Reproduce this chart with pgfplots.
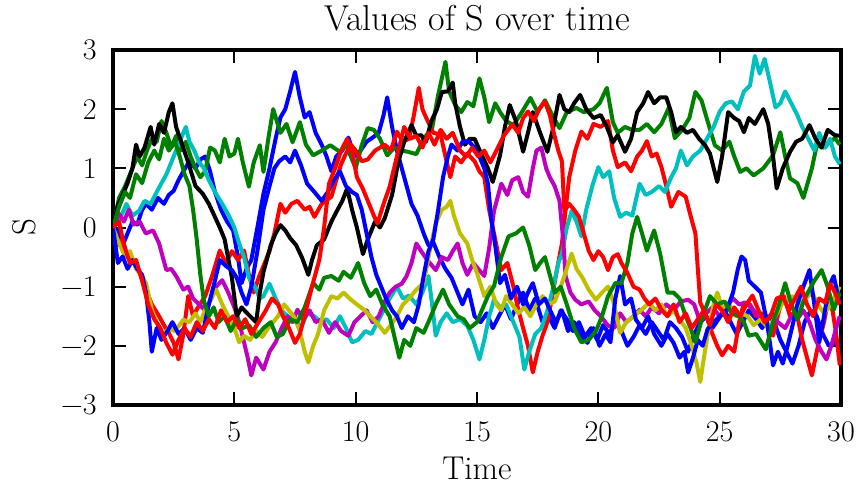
\documentclass[border=0pt]{standalone}
\usepackage{pgfplots}
\pgfplotsset{compat=1.18}
\definecolor{mplb}{rgb}{0,0,1}
\definecolor{mplg}{rgb}{0,0.5,0}
\definecolor{mplr}{rgb}{1,0,0}
\definecolor{mplc}{rgb}{0,0.75,0.75}
\definecolor{mplm}{rgb}{0.75,0,0.75}
\definecolor{mply}{rgb}{0.75,0.75,0}
\newcommand{\tickfont}{\fontsize{15}{18}\selectfont}
\newcommand{\labelfont}{\fontsize{16.5}{19}\selectfont}
\begin{document}
\begin{tikzpicture}
\path[use as bounding box] (-56.5pt,-43pt) rectangle (374pt,202.5pt);
\begin{axis}[
  at={(0pt,0pt)}, anchor=south west,
  scale only axis, width=364pt, height=177.5pt,
  xmin=0, xmax=30, ymin=-3, ymax=3,
  xtick={0,5,10,15,20,25,30}, ytick={-3,-2,-1,0,1,2,3},
  xticklabels={0,5,10,15,20,25,30},
  yticklabels={−3,−2,−1,0,1,2,3},
  /pgf/number format/assume math mode=true,
  tick align=inside, tick pos=both,
  major tick length=6.5pt,
  every tick/.style={black, line width=1pt},
  axis line style={line width=2pt},
  every tick label/.append style={font=\tickfont},
  xticklabel style={anchor=base, yshift=-18.5pt, inner sep=0pt},
  yticklabel style={anchor=east, xshift=-8pt, inner sep=0pt},
  title={Values of S over time},
  title style={at={(axis description cs:0.5,1.0563)}, anchor=base, yshift=-6pt, inner sep=0pt, font=\fontsize{18}{21}\selectfont},
  xlabel={Time},
  xlabel style={at={(axis description cs:0.5,-0.2085)}, anchor=base, inner sep=0pt, font=\labelfont},
  ylabel={S},
  ylabel style={at={(axis description cs:-0.1071,0.5)}, anchor=base, inner sep=0pt, font=\labelfont},
  every axis plot/.append style={line width=2pt, line join=round},
]
% blue A
\addplot[mplb] coordinates {(0,0) (0.2,-0.05) (0.4,-0.3) (0.6,-0.1) (0.8,0.1) (1.0,0.05) (1.2,0.3) (1.36,0.4) (1.6,0.3) (1.85,0.5) (2.1,0.4) (2.3,0.55) (2.5,0.62) (2.7,0.8) (2.9,0.95) (3.15,1.12) (3.4,1.0) (3.6,1.15) (3.8,1.2) (4.0,0.95) (4.2,0.6) (4.45,0.3) (4.7,0.1) (4.95,-0.05) (5.15,-0.5) (5.3,-0.94) (5.5,-0.7) (5.7,-0.55) (5.95,0.0) (6.2,0.57) (6.45,1.0) (6.7,1.5) (6.9,1.86) (7.1,2.0) (7.3,2.3) (7.5,2.63) (7.7,2.2) (7.9,1.86) (8.1,1.95) (8.35,1.6) (8.6,1.4) (8.8,1.2) (9.0,0.95) (9.2,1.2) (9.45,1.3) (9.7,1.52) (9.95,1.2) (10.2,1.3) (10.45,1.45) (10.7,1.52) (10.95,1.6) (11.15,1.9) (11.3,2.2) (11.5,1.7) (11.7,1.3) (11.9,1.0) (12.1,0.7) (12.3,0.4) (12.55,0.2) (12.8,-0.1) (13.0,-0.3) (13.2,-0.25) (13.45,-0.5) (13.7,-0.7) (13.95,-0.85) (14.2,-1.1) (14.4,-1.3) (14.65,-1.05) (14.9,-1.5) (15.15,-1.6) (15.4,-1.45) (15.65,-1.7) (15.9,-1.5) (16.15,-1.3) (16.4,-1.55) (16.65,-1.3) (16.9,-1.1) (17.15,-1.4) (17.4,-1.2) (17.7,-1.6) (17.95,-1.5) (18.2,-1.7) (18.45,-1.4) (18.7,-1.55) (18.95,-1.75) (19.2,-1.6) (19.45,-1.85) (19.7,-1.7) (19.95,-1.9) (20.2,-1.65) (20.45,-1.8) (20.7,-1.6) (20.95,-1.75) (21.2,-2.0) (21.45,-1.85) (21.7,-1.65) (21.95,-1.8) (22.2,-1.6) (22.45,-1.75) (22.7,-1.9) (22.95,-1.6) (23.2,-1.7) (23.45,-1.85) (23.7,-2.1) (23.95,-1.8) (24.2,-1.6) (24.45,-1.5) (24.7,-1.7) (24.95,-1.55) (25.2,-1.4) (25.45,-1.6) (25.7,-1.8) (25.95,-1.6) (26.2,-1.4) (26.5,-1.55) (26.75,-1.7) (27.0,-1.5) (27.25,-1.6) (27.5,-1.9) (27.75,-2.1) (28.0,-2.3) (28.25,-2.0) (28.5,-1.6) (28.75,-1.4) (29.0,-1.5) (29.25,-1.8) (29.5,-2.0) (29.75,-1.95) (29.95,-2.0)};
% green A
\addplot[mplg] coordinates {(0,0) (0.25,0.5) (0.5,0.7) (0.75,0.95) (1.0,1.2) (1.2,1.05) (1.4,1.3) (1.6,1.5) (1.8,1.45) (2.0,1.8) (2.2,1.6) (2.4,1.35) (2.6,1.55) (2.8,1.3) (3.0,1.45) (3.2,1.2) (3.4,1.0) (3.6,0.85) (3.8,0.95) (4.0,1.35) (4.2,1.3) (4.4,1.1) (4.6,1.5) (4.8,1.2) (5.0,1.25) (5.15,1.5) (5.35,1.1) (5.6,0.69) (5.8,1.1) (6.05,1.39) (6.2,0.94) (6.4,1.5) (6.6,2.0) (6.9,1.6) (7.15,1.75) (7.4,1.44) (7.7,1.78) (7.95,1.4) (8.25,1.22) (8.6,1.3) (8.95,1.39) (9.35,1.28) (9.6,1.4) (9.8,1.2) (10.0,1.0) (10.25,1.39) (10.5,1.68) (10.75,1.65) (11.0,1.5) (11.3,1.22) (11.6,1.35) (11.9,1.3) (12.15,1.28) (12.5,1.24) (12.8,1.5) (13.15,1.68) (13.4,2.24) (13.7,2.8) (13.85,2.3) (14.1,2.07) (14.35,1.95) (14.6,2.12) (14.85,2.05) (15.1,2.52) (15.3,2.2) (15.5,1.78) (15.75,2.1) (15.95,1.95) (16.2,1.8) (16.5,1.73) (16.85,1.95) (17.2,2.19) (17.5,1.95) (17.8,2.15) (18.1,1.9) (18.4,1.68) (18.7,1.95) (19.1,2.02) (19.4,1.95) (19.8,2.0) (20.05,2.1) (20.35,2.36) (20.6,1.78) (20.8,1.6) (21.1,1.7) (21.4,1.65) (21.7,1.65) (22.0,1.75) (22.3,1.61) (22.6,1.75) (22.9,2.02) (23.15,1.51) (23.45,1.65) (23.75,1.85) (24.0,2.29) (24.25,2.15) (24.5,1.8) (24.8,1.39) (25.1,1.3) (25.4,1.45) (25.6,1.2) (25.85,0.94) (26.1,1.0) (26.4,0.88) (26.8,1.0) (27.2,1.22) (27.5,1.61) (27.7,1.2) (27.9,0.83) (28.2,0.75) (28.45,0.5) (28.8,1.0) (29.0,1.39) (29.3,1.35) (29.55,1.45) (29.75,1.51) (29.95,1.4)};
% red A
\addplot[mplr] coordinates {(0,0) (0.2,-0.3) (0.4,-0.2) (0.6,-0.5) (0.85,-0.6) (1.07,-0.72) (1.25,-0.95) (1.36,-1.05) (1.6,-1.3) (1.9,-1.5) (2.1,-1.65) (2.3,-1.78) (2.5,-1.95) (2.7,-2.23) (2.9,-1.8) (3.1,-1.16) (3.3,-1.5) (3.5,-1.35) (3.8,-1.16) (4.1,-0.8) (4.4,-0.39) (4.65,-0.6) (4.9,-0.4) (5.15,-0.55) (5.4,-0.39) (5.6,-0.8) (5.8,-1.1) (6.0,-0.85) (6.2,-0.65) (6.45,-0.4) (6.65,-0.1) (6.9,0.4) (7.1,0.25) (7.35,0.4) (7.6,0.45) (7.9,0.3) (8.1,0.35) (8.3,0.18) (8.6,0.4) (9.0,0.52) (9.2,0.8) (9.4,1.07) (9.6,1.25) (9.8,1.4) (10.0,1.3) (10.25,1.12) (10.5,1.15) (10.8,1.3) (11.2,1.4) (11.45,1.3) (11.7,1.62) (11.95,1.45) (12.2,1.5) (12.4,1.9) (12.6,2.36) (12.75,2.0) (12.9,1.86) (13.2,1.6) (13.5,1.57) (13.7,1.2) (13.9,0.85) (14.1,1.2) (14.35,1.1) (14.6,1.25) (14.9,1.12) (15.1,0.95) (15.3,0.85) (15.5,0.3) (15.75,-0.2) (16.0,-0.72) (16.25,-0.6) (16.5,-1.0) (16.7,-1.39) (16.9,-1.7) (17.1,-2.0) (17.3,-2.45) (17.5,-2.1) (17.7,-1.83) (17.9,-1.6) (18.1,-1.16) (18.3,-0.7) (18.5,-0.27) (18.65,0.3) (18.8,0.85) (19.05,1.3) (19.3,1.62) (19.55,1.5) (19.8,1.75) (20.1,1.7) (20.4,1.8) (20.6,1.3) (20.8,1.02) (21.1,1.1) (21.35,0.95) (21.6,1.2) (21.8,1.3) (22.0,1.46) (22.2,1.2) (22.4,1.25) (22.6,1.02) (22.8,0.7) (23.0,0.35) (23.3,0.6) (23.6,0.52) (23.8,0.2) (24.0,-0.1) (24.1,-0.7) (24.2,-1.27) (24.45,-1.5) (24.7,-1.8) (24.9,-2.0) (25.1,-2.16) (25.35,-2.0) (25.6,-2.1) (25.8,-1.6) (26.0,-1.27) (26.25,-1.3) (26.5,-1.5) (26.8,-1.45) (27.0,-1.7) (27.2,-1.83) (27.45,-1.4) (27.65,-1.16) (27.9,-1.5) (28.15,-1.4) (28.4,-1.9) (28.6,-2.2) (28.8,-2.5) (29.05,-2.0) (29.3,-1.6) (29.45,-1.27) (29.65,-1.4) (29.8,-1.8) (29.95,-2.33)};
% cyan
\addplot[mplc] coordinates {(0,0) (0.2,0.1) (0.4,0.25) (0.55,0.4) (0.8,0.2) (1.07,0.28) (1.3,0.45) (1.55,0.4) (1.8,0.6) (2.0,0.75) (2.2,0.9) (2.4,1.1) (2.6,1.3) (2.8,1.5) (3.0,1.7) (3.15,1.45) (3.35,1.3) (3.55,1.1) (3.75,1.0) (3.95,0.8) (4.2,0.6) (4.5,0.4) (4.8,0.18) (5.0,0.0) (5.2,-0.27) (5.4,-0.5) (5.6,-0.85) (5.85,-1.0) (6.05,-1.2) (6.2,-1.16) (6.45,-0.95) (6.7,-1.2) (6.95,-1.4) (7.2,-1.5) (7.5,-1.56) (7.75,-1.7) (8.0,-1.45) (8.3,-1.5) (8.55,-1.6) (8.8,-1.55) (9.1,-1.7) (9.35,-1.5) (9.6,-1.7) (9.85,-1.94) (10.1,-1.9) (10.4,-1.75) (10.65,-1.8) (10.9,-1.6) (11.15,-1.4) (11.4,-1.2) (11.7,-1.0) (11.95,-1.2) (12.2,-1.15) (12.5,-1.3) (12.75,-1.1) (13.0,-0.82) (13.15,-1.3) (13.3,-1.83) (13.5,-1.6) (13.75,-1.45) (14.0,-1.6) (14.3,-1.55) (14.6,-1.66) (14.85,-1.9) (15.1,-2.23) (15.3,-1.9) (15.5,-1.5) (15.7,-1.22) (15.95,-1.35) (16.2,-1.3) (16.5,-1.6) (16.75,-1.85) (16.95,-2.4) (17.15,-2.1) (17.4,-1.8) (17.65,-1.7) (17.9,-1.4) (18.15,-1.0) (18.35,-0.6) (18.5,-0.44) (18.7,0.0) (18.9,0.28) (19.1,0.1) (19.3,-0.15) (19.5,0.3) (19.75,0.7) (20.0,1.02) (20.2,0.85) (20.45,0.95) (20.65,0.5) (20.9,0.18) (21.15,0.25) (21.4,0.2) (21.7,0.74) (21.95,0.55) (22.2,0.6) (22.5,0.7) (22.75,0.6) (23.0,0.85) (23.2,1.0) (23.4,1.3) (23.65,1.05) (23.9,1.2) (24.2,1.3) (24.5,1.52) (24.75,1.7) (25.0,1.96) (25.25,2.1) (25.5,2.13) (25.75,2.0) (26.0,2.3) (26.25,2.4) (26.45,2.9) (26.65,2.6) (26.85,2.85) (27.05,2.5) (27.3,2.03) (27.5,2.1) (27.7,2.3) (27.95,2.1) (28.2,1.9) (28.4,1.7) (28.65,1.5) (28.9,1.3) (29.1,1.6) (29.35,1.35) (29.55,1.5) (29.75,1.2) (29.95,1.07)};
% magenta
\addplot[mplm] coordinates {(0,0) (0.25,0.23) (0.45,0.1) (0.65,0.3) (0.85,0.05) (1.1,0.1) (1.35,-0.1) (1.65,-0.05) (1.9,-0.27) (2.05,-0.5) (2.2,-0.72) (2.4,-0.7) (2.6,-0.82) (2.9,-1.05) (3.1,-1.0) (3.3,-1.2) (3.55,-1.3) (3.8,-1.4) (4.05,-1.2) (4.25,-1.0) (4.5,-0.89) (4.75,-1.1) (5.0,-1.35) (5.2,-1.6) (5.4,-1.94) (5.55,-2.2) (5.7,-2.5) (5.9,-2.2) (6.05,-2.3) (6.2,-2.4) (6.45,-2.1) (6.7,-1.94) (6.95,-1.7) (7.2,-1.5) (7.4,-1.6) (7.6,-1.39) (7.85,-1.55) (8.1,-1.4) (8.35,-1.6) (8.6,-1.55) (8.9,-1.78) (9.15,-1.6) (9.4,-1.75) (9.7,-1.83) (9.95,-1.6) (10.2,-1.5) (10.45,-1.4) (10.7,-1.6) (10.95,-1.5) (11.2,-1.25) (11.4,-1.1) (11.65,-1.0) (11.9,-0.95) (12.1,-0.82) (12.3,-0.6) (12.5,-0.27) (12.7,-0.4) (12.95,-0.55) (13.3,-0.72) (13.55,-0.5) (13.8,-0.55) (14.0,-0.4) (14.2,-0.27) (14.4,-0.6) (14.6,-0.8) (14.85,-0.6) (15.05,-0.7) (15.3,-0.82) (15.5,-0.35) (15.7,0.28) (16.0,0.74) (16.25,0.55) (16.45,0.8) (16.7,0.85) (16.9,0.6) (17.1,0.52) (17.3,1.0) (17.45,1.3) (17.65,1.35) (17.85,1.0) (18.0,0.85) (18.2,0.7) (18.4,0.45) (18.55,-0.2) (18.65,-0.82) (18.85,-1.1) (19.05,-1.22) (19.3,-1.3) (19.6,-1.25) (19.85,-1.4) (20.1,-1.5) (20.4,-1.66) (20.65,-1.7) (20.9,-1.45) (21.15,-1.6) (21.45,-1.5) (21.7,-1.39) (21.95,-1.5) (22.2,-1.35) (22.5,-1.45) (22.8,-1.3) (23.1,-1.4) (23.4,-1.25) (23.7,-1.22) (23.95,-1.3) (24.2,-1.6) (24.45,-1.45) (24.7,-1.35) (25.0,-1.5) (25.25,-1.35) (25.55,-1.2) (25.8,-1.3) (26.05,-1.27) (26.3,-1.35) (26.6,-1.5) (26.9,-1.6) (27.15,-1.45) (27.4,-1.6) (27.7,-1.7) (27.95,-1.5) (28.2,-1.55) (28.45,-1.4) (28.7,-1.6) (28.95,-1.9) (29.2,-2.1) (29.4,-2.23) (29.6,-2.0) (29.8,-1.7) (29.95,-1.5)};
% yellow
\addplot[mply] coordinates {(0,0) (0.25,-0.27) (0.5,-0.49) (0.7,-0.4) (0.95,-0.7) (1.15,-0.8) (1.36,-0.94) (1.6,-1.39) (1.8,-1.6) (2.05,-1.83) (2.3,-1.7) (2.55,-1.75) (2.9,-1.56) (3.15,-1.6) (3.4,-1.45) (3.6,-1.6) (3.8,-1.39) (4.05,-1.2) (4.25,-1.05) (4.5,-1.3) (4.75,-1.5) (5.0,-1.7) (5.2,-1.94) (5.4,-1.83) (5.65,-1.9) (5.9,-1.75) (6.15,-1.85) (6.4,-1.7) (6.6,-1.6) (6.8,-1.5) (7.05,-1.3) (7.25,-1.4) (7.45,-1.5) (7.7,-1.75) (7.9,-2.1) (8.05,-2.28) (8.25,-2.0) (8.45,-1.8) (8.7,-1.4) (9.0,-1.16) (9.25,-1.2) (9.5,-1.1) (9.75,-1.2) (10.05,-1.3) (10.35,-1.39) (10.6,-1.5) (10.85,-1.6) (11.2,-1.78) (11.45,-1.65) (11.7,-1.5) (11.95,-1.3) (12.2,-1.2) (12.5,-1.05) (12.8,-0.94) (13.05,-0.4) (13.3,0.07) (13.55,0.3) (13.75,0.35) (13.9,0.45) (14.05,0.2) (14.3,-0.1) (14.6,-0.27) (14.8,-0.55) (15.0,-0.77) (15.3,-1.16) (15.55,-1.0) (15.8,-1.3) (16.0,-1.4) (16.2,-1.16) (16.45,-1.3) (16.7,-1.45) (16.95,-1.35) (17.2,-1.5) (17.45,-1.3) (17.7,-1.16) (17.95,-1.3) (18.2,-1.25) (18.45,-1.0) (18.6,-0.82) (18.9,-0.44) (19.1,-0.7) (19.35,-0.85) (19.6,-1.05) (19.9,-1.22) (20.15,-1.1) (20.4,-1.0) (20.65,-1.3) (20.9,-1.78) (21.15,-1.6) (21.45,-1.5) (21.75,-1.4) (22.1,-1.27) (22.35,-1.4) (22.6,-1.3) (22.85,-1.5) (23.1,-1.4) (23.35,-1.55) (23.6,-1.7) (23.85,-2.0) (24.05,-2.3) (24.2,-2.61) (24.35,-2.2) (24.55,-1.7) (24.75,-1.3) (24.9,-1.1) (25.15,-1.4) (25.4,-1.3) (25.65,-1.5) (25.9,-1.45) (26.15,-1.5) (26.4,-1.65) (26.7,-1.55) (27.0,-1.7) (27.3,-1.5) (27.55,-1.3) (27.8,-1.2) (28.0,-1.16) (28.3,-1.3) (28.55,-1.2) (28.8,-1.1) (29.05,-1.3) (29.3,-1.45) (29.5,-1.35) (29.7,-1.2) (29.95,-1.0)};
% black
\addplot[black] coordinates {(0,0) (0.2,0.38) (0.4,0.55) (0.6,0.75) (0.8,1.0) (0.95,1.4) (1.1,1.2) (1.3,1.35) (1.55,1.7) (1.7,1.4) (1.9,1.75) (2.1,1.6) (2.3,1.95) (2.45,2.1) (2.6,1.7) (2.85,1.4) (3.1,1.1) (3.4,0.7) (3.7,0.57) (3.95,0.4) (4.2,0.18) (4.4,0.0) (4.6,-0.2) (4.9,-0.85) (5.1,-1.5) (5.3,-1.35) (5.6,-1.48) (5.9,-1.6) (6.05,-1.1) (6.2,-0.75) (6.5,-0.3) (6.7,-0.1) (6.9,0.04) (7.1,-0.05) (7.3,-0.18) (7.55,-0.3) (7.8,-0.52) (8.05,-0.8) (8.2,-0.55) (8.4,-0.3) (8.7,-0.2) (9.0,0.1) (9.2,0.26) (9.45,0.45) (9.65,0.66) (9.85,0.3) (10.05,0.0) (10.3,-0.45) (10.5,-0.2) (10.8,0.1) (11.0,0.0) (11.2,0.16) (11.5,0.55) (11.75,1.1) (12.0,1.45) (12.3,1.73) (12.5,1.55) (12.7,1.56) (12.9,1.45) (13.1,1.78) (13.35,2.0) (13.55,2.29) (13.8,2.3) (14.0,2.45) (14.1,2.1) (14.3,1.7) (14.5,1.4) (14.7,1.5) (14.9,1.5) (15.2,1.22) (15.45,1.0) (15.65,0.77) (15.95,1.22) (16.15,1.7) (16.35,2.07) (16.6,1.8) (16.9,1.28) (17.1,1.6) (17.3,1.95) (17.6,1.6) (17.9,1.28) (18.15,1.7) (18.4,2.24) (18.6,2.0) (18.8,1.95) (19.0,2.1) (19.25,2.24) (19.5,2.0) (19.8,1.85) (20.1,1.9) (20.35,1.7) (20.6,1.44) (20.8,1.56) (21.1,1.28) (21.35,1.5) (21.6,1.95) (21.85,2.1) (22.05,2.29) (22.3,2.1) (22.55,2.2) (22.8,2.2) (23.0,1.95) (23.2,1.61) (23.4,1.7) (23.65,1.6) (23.9,1.65) (24.15,1.5) (24.4,1.39) (24.6,1.25) (24.9,0.77) (25.1,1.2) (25.35,1.95) (25.6,1.85) (25.8,1.8) (26.0,1.61) (26.2,1.85) (26.45,1.75) (26.8,2.0) (27.0,1.75) (27.2,1.2) (27.35,0.66) (27.6,1.0) (27.9,1.28) (28.15,1.45) (28.4,1.5) (28.7,1.73) (28.95,1.5) (29.2,1.35) (29.45,1.65) (29.75,1.56) (29.95,1.55)};
% blue B
\addplot[mplb] coordinates {(0,0) (0.2,-0.6) (0.4,-0.49) (0.6,-0.7) (0.8,-0.55) (1.0,-0.7) (1.2,-0.8) (1.36,-1.1) (1.5,-1.6) (1.6,-2.1) (1.8,-1.7) (2.0,-1.9) (2.2,-1.78) (2.45,-1.6) (2.7,-1.8) (2.95,-1.7) (3.2,-1.9) (3.45,-1.7) (3.7,-1.78) (3.95,-1.3) (4.2,-0.9) (4.4,-0.55) (4.65,-0.65) (4.9,-0.72) (5.1,-0.85) (5.3,-1.1) (5.5,-1.3) (5.7,-1.0) (5.95,-0.4) (6.2,0.3) (6.45,0.7) (6.65,1.0) (6.85,1.12) (7.1,1.2) (7.3,1.1) (7.5,1.3) (7.75,1.05) (8.0,0.74) (8.3,0.6) (8.6,0.45) (8.85,0.6) (9.1,0.8) (9.35,0.95) (9.6,0.7) (9.85,0.6) (10.05,0.55) (10.25,0.3) (10.45,-0.1) (10.65,-0.5) (10.85,-0.8) (11.05,-1.0) (11.25,-1.2) (11.5,-1.4) (11.7,-1.5) (11.9,-1.7) (12.15,-1.5) (12.4,-1.6) (12.6,-1.3) (12.8,-0.82) (13.0,-0.4) (13.2,-0.2) (13.4,0.3) (13.6,0.85) (13.8,1.2) (13.95,1.4) (14.2,1.3) (14.4,1.45) (14.65,1.46) (14.9,1.35) (15.1,1.2) (15.3,1.0) (15.45,0.74) (15.6,0.1) (15.75,-0.3) (15.95,-0.94) (16.15,-0.8) (16.4,-1.2) (16.65,-1.0) (16.9,-1.3) (17.1,-1.1) (17.3,-0.94) (17.55,-1.3) (17.8,-1.2) (18.0,-1.39) (18.25,-1.6) (18.5,-1.4) (18.75,-1.75) (19.0,-1.6) (19.3,-1.83) (19.55,-1.95) (19.8,-1.7) (20.05,-2.0) (20.3,-1.8) (20.5,-1.94) (20.7,-1.2) (20.9,-0.82) (21.1,-1.3) (21.35,-1.2) (21.55,-1.56) (21.8,-1.7) (22.05,-1.5) (22.3,-1.8) (22.6,-2.0) (22.85,-1.8) (23.1,-1.95) (23.35,-2.2) (23.55,-2.1) (23.7,-2.45) (23.9,-2.2) (24.1,-1.9) (24.3,-2.0) (24.5,-1.72) (24.75,-1.6) (25.0,-1.5) (25.3,-1.39) (25.55,-1.1) (25.75,-0.7) (25.9,-0.49) (26.05,-0.55) (26.2,-0.9) (26.45,-1.0) (26.7,-1.1) (26.95,-1.6) (27.2,-2.33) (27.4,-2.1) (27.6,-2.3) (27.8,-2.0) (28.0,-1.66) (28.2,-1.3) (28.45,-1.0) (28.7,-0.72) (28.9,-1.3) (29.1,-1.94) (29.3,-1.5) (29.5,-1.0) (29.7,-0.82) (29.95,-1.3)};
% green B
\addplot[mplg] coordinates {(0,0) (0.25,0.35) (0.5,0.6) (0.7,0.5) (0.95,0.9) (1.2,0.75) (1.45,1.1) (1.7,1.3) (1.9,1.15) (2.1,1.5) (2.3,1.3) (2.55,1.45) (2.75,1.2) (2.95,0.9) (3.15,0.7) (3.3,0.3) (3.45,-0.2) (3.6,-0.8) (3.75,-1.25) (3.95,-1.5) (4.15,-1.35) (4.35,-1.6) (4.6,-1.5) (4.85,-1.75) (5.1,-1.55) (5.35,-1.7) (5.6,-1.65) (5.9,-1.85) (6.2,-1.7) (6.5,-1.6) (6.75,-1.85) (7.0,-1.8) (7.3,-1.55) (7.6,-1.6) (7.9,-1.35) (8.25,-0.94) (8.5,-1.05) (8.7,-0.85) (9.0,-0.82) (9.3,-0.9) (9.5,-0.75) (9.8,-0.85) (10.1,-0.6) (10.35,-0.94) (10.6,-1.16) (10.85,-1.05) (11.1,-1.3) (11.4,-1.5) (11.6,-1.85) (11.8,-2.2) (12.0,-1.9) (12.25,-2.0) (12.5,-1.7) (12.8,-1.78) (13.05,-1.55) (13.3,-1.3) (13.6,-1.05) (13.85,-1.3) (14.2,-1.5) (14.45,-1.55) (14.7,-1.7) (15.0,-1.6) (15.2,-1.4) (15.45,-1.16) (15.7,-0.99) (16.0,-0.5) (16.3,-0.15) (16.6,-0.1) (16.9,0.0) (17.15,-0.3) (17.4,-0.72) (17.6,-0.6) (17.8,-0.5) (18.0,-0.8) (18.2,-1.1) (18.45,-1.0) (18.7,-1.3) (19.0,-1.7) (19.3,-1.94) (19.6,-1.9) (19.9,-1.75) (20.15,-1.5) (20.4,-1.16) (20.7,-0.94) (20.95,-0.94) (21.2,-0.6) (21.4,-0.1) (21.6,0.18) (21.8,-0.1) (22.0,-0.39) (22.3,-0.05) (22.55,-0.45) (22.85,-1.1) (23.1,-1.1) (23.35,-1.2) (23.6,-1.5) (23.8,-1.7) (24.0,-1.94) (24.3,-1.5) (24.6,-1.16) (24.9,-1.3) (25.2,-1.25) (25.5,-1.45) (25.8,-1.5) (26.0,-1.6) (26.2,-1.83) (26.5,-1.8) (26.9,-2.06) (27.2,-1.6) (27.45,-1.3) (27.7,-0.94) (27.95,-1.3) (28.2,-1.55) (28.5,-1.2) (28.9,-0.9) (29.2,-0.72) (29.45,-1.0) (29.7,-1.39) (29.95,-1.1)};
% red B
\addplot[mplr] coordinates {(0,0) (0.25,0.1) (0.45,-0.3) (0.7,-0.6) (0.95,-0.55) (1.2,-0.9) (1.45,-1.3) (1.7,-1.55) (1.95,-1.7) (2.2,-1.95) (2.45,-2.15) (2.7,-1.9) (2.95,-1.7) (3.2,-1.85) (3.45,-1.6) (3.7,-1.75) (3.95,-1.55) (4.2,-1.7) (4.45,-1.4) (4.7,-1.6) (4.95,-1.5) (5.2,-1.7) (5.45,-1.55) (5.7,-1.8) (6.0,-1.6) (6.3,-1.4) (6.55,-1.2) (6.8,-1.3) (7.0,-1.5) (7.25,-1.7) (7.5,-1.95) (7.7,-1.8) (7.95,-1.4) (8.2,-1.0) (8.5,-0.55) (8.7,0.0) (8.9,0.74) (9.15,1.0) (9.4,1.3) (9.65,1.5) (9.85,1.3) (10.05,0.85) (10.3,0.65) (10.55,0.4) (10.75,0.2) (10.9,0.07) (11.15,0.4) (11.4,0.69) (11.7,1.2) (12.0,1.7) (12.25,1.5) (12.5,1.55) (12.75,1.35) (13.0,1.6) (13.25,1.4) (13.5,1.65) (13.75,1.5) (14.0,1.6) (14.3,1.3) (14.55,1.2) (14.8,1.35) (15.05,1.2) (15.3,1.3) (15.55,1.1) (15.8,1.3) (16.1,1.55) (16.45,1.74) (16.7,1.6) (16.9,1.85) (17.1,1.96) (17.35,1.8) (17.55,2.0) (17.8,2.13) (18.0,1.9) (18.15,1.62) (18.35,1.3) (18.5,1.12) (18.6,0.28) (18.8,0.4) (19.0,0.3) (19.2,0.18) (19.4,-0.1) (19.6,-0.39) (19.8,-0.55) (20.0,-0.4) (20.2,-0.5) (20.4,-0.72) (20.6,-0.5) (20.8,-0.45) (20.95,-0.6) (21.2,-0.77) (21.45,-1.0) (21.7,-1.05) (21.9,-1.2) (22.1,-1.3) (22.35,-1.2) (22.6,-1.39) (22.85,-1.5) (23.1,-1.3) (23.35,-1.6) (23.6,-1.45) (23.85,-1.7) (24.1,-1.55) (24.35,-1.4) (24.6,-1.65) (24.85,-1.3) (25.1,-1.4) (25.35,-1.6) (25.6,-1.35) (25.85,-1.5) (26.1,-1.3) (26.35,-1.15) (26.6,-1.4) (26.85,-1.6) (27.1,-1.5) (27.35,-1.2) (27.6,-1.16) (27.85,-1.4) (28.1,-1.2) (28.35,-1.0) (28.6,-1.3) (28.85,-1.5) (29.1,-1.2) (29.35,-1.27) (29.55,-0.95) (29.75,-1.1) (29.95,-1.3)};
\end{axis}
\end{tikzpicture}
\end{document}
